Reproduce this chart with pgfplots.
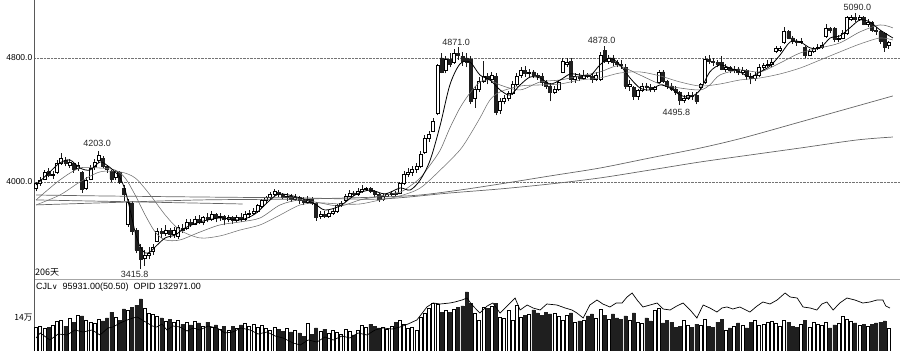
\documentclass[border=0pt]{standalone}
\usepackage{pgfplots}
\pgfplotsset{compat=1.18}
\usepackage{pgfplotstable}
\usepackage{fontspec}
\setmainfont{Liberation Sans}
\newfontfamily\cjk{Noto Sans CJK SC}
\newfontfamily\dejavu{DejaVu Sans}

\pgfplotstableread{
i o h l c v
0 3960 4000 3940 3990 101800
1 3990 4030 3975 4010 106000
2 4020 4080 4010 4060 97600
3 4070 4090 4030 4040 101800
4 4040 4070 4020 4050 110300
5 4060 4140 4050 4120 127300
6 4120 4190 4110 4150 131500
7 4140 4160 4100 4120 106000
8 4110 4150 4090 4130 140000
9 4120 4130 4060 4080 123000
10 4090 4130 4070 4110 152700
11 4060 4070 3930 3950 148500
12 3960 4030 3950 4010 131500
13 4020 4110 4010 4090 123000
14 4100 4150 4080 4130 118800
15 4140 4203 4120 4170 135700
16 4150 4170 4090 4100 127300
17 4100 4110 4060 4080 140000
18 4070 4080 4000 4020 165400
19 4030 4080 4010 4070 144200
20 4060 4070 3990 4000 131500
21 3960 3980 3880 3920 178200
22 3730 3890 3710 3870 174000
23 3860 3880 3660 3680 186600
24 3690 3700 3540 3560 195100
25 3580 3600 3440 3500 220600
26 3510 3560 3460 3530 182400
27 3530 3580 3500 3540 161200
28 3550 3600 3530 3580 157000
29 3620 3700 3610 3680 148500
30 3680 3700 3640 3670 140000
31 3670 3720 3650 3690 127300
32 3690 3700 3640 3660 135700
33 3660 3710 3640 3690 123000
34 3650 3720 3630 3710 131500
35 3700 3730 3670 3690 114500
36 3700 3760 3690 3740 123000
37 3740 3760 3710 3730 110300
38 3730 3780 3720 3760 127300
39 3760 3790 3730 3740 118800
40 3740 3780 3720 3770 106000
41 3770 3800 3740 3760 123000
42 3760 3810 3750 3790 101800
43 3790 3800 3740 3770 110300
44 3770 3800 3750 3780 93300
45 3780 3790 3720 3760 106000
46 3760 3790 3740 3770 89100
47 3770 3780 3730 3750 106000
48 3750 3790 3740 3770 97600
49 3770 3800 3740 3760 110300
50 3760 3810 3750 3790 118800
51 3790 3820 3770 3800 106000
52 3800 3830 3790 3810 114500
53 3810 3860 3800 3850 101800
54 3840 3890 3830 3880 110300
55 3880 3910 3860 3900 97600
56 3900 3935 3890 3920 89100
57 3920 3955 3910 3940 101800
58 3935 3950 3900 3920 93300
59 3920 3930 3890 3900 84800
60 3900 3930 3880 3910 97600
61 3910 3920 3870 3890 80600
62 3890 3920 3880 3900 89100
63 3900 3910 3860 3880 76400
64 3880 3900 3850 3870 63600
65 3870 3910 3860 3890 118800
66 3890 3900 3850 3860 72100
67 3860 3870 3750 3770 97600
68 3780 3810 3760 3790 84800
69 3790 3810 3770 3780 93300
70 3780 3820 3770 3800 76400
71 3800 3830 3790 3810 89100
72 3810 3860 3800 3850 80600
73 3850 3880 3840 3860 72100
74 3880 3920 3870 3910 93300
75 3910 3950 3900 3930 84800
76 3930 3940 3910 3920 67900
77 3920 3960 3910 3940 89100
78 3940 3980 3930 3950 110300
79 3950 3970 3940 3960 101800
80 3960 3970 3930 3940 114500
81 3940 3950 3900 3920 106000
82 3920 3930 3870 3890 97600
83 3890 3920 3880 3910 101800
84 3910 3930 3900 3920 93300
85 3920 3940 3910 3930 106000
86 3930 3940 3910 3920 123000
87 3930 4000 3920 3990 131500
88 3990 4070 3980 4050 114500
89 4050 4090 4030 4060 97600
90 4060 4100 4040 4080 101800
91 4080 4120 4060 4100 89100
92 4100 4200 4090 4180 144200
93 4190 4300 4180 4280 161200
94 4280 4330 4260 4310 182400
95 4330 4410 4320 4390 203600
96 4440 4760 4430 4750 199400
97 4800 4830 4700 4710 165400
98 4720 4810 4700 4790 174000
99 4790 4830 4740 4760 165400
100 4770 4860 4760 4830 178200
101 4830 4871 4790 4820 186600
102 4810 4840 4750 4780 190900
103 4800 4830 4740 4770 250300
104 4790 4810 4500 4520 203600
105 4540 4620 4480 4600 161200
106 4600 4680 4580 4650 131500
107 4650 4780 4640 4680 186600
108 4680 4700 4630 4660 182400
109 4660 4710 4640 4690 190900
110 4680 4700 4430 4450 203600
111 4460 4540 4440 4520 144200
112 4520 4560 4500 4540 140000
113 4540 4590 4520 4570 174000
114 4570 4650 4560 4630 131500
115 4630 4700 4620 4680 195100
116 4690 4740 4670 4720 144200
117 4720 4750 4680 4700 152700
118 4700 4730 4680 4710 157000
119 4710 4720 4670 4690 174000
120 4690 4700 4660 4680 161200
121 4680 4700 4620 4640 152700
122 4640 4660 4600 4620 165400
123 4620 4640 4520 4580 157000
124 4580 4620 4570 4600 161200
125 4600 4660 4590 4640 148500
126 4710 4800 4700 4780 131500
127 4760 4800 4740 4770 152700
128 4780 4800 4640 4660 161200
129 4660 4700 4640 4680 123000
130 4680 4700 4650 4670 127300
131 4670 4720 4660 4690 131500
132 4690 4700 4670 4680 148500
133 4680 4700 4640 4660 157000
134 4660 4710 4650 4690 140000
135 4660 4840 4650 4820 178200
136 4850 4878 4770 4780 152700
137 4780 4820 4760 4800 135700
138 4800 4820 4750 4770 157000
139 4770 4790 4740 4760 140000
140 4760 4790 4730 4750 135700
141 4740 4760 4600 4620 148500
142 4620 4660 4590 4630 131500
143 4610 4620 4530 4550 161200
144 4550 4600 4530 4590 123000
145 4590 4640 4580 4620 118800
146 4620 4640 4590 4610 140000
147 4610 4630 4580 4600 127300
148 4600 4620 4580 4610 174000
149 4640 4720 4630 4710 182400
150 4710 4720 4640 4650 118800
151 4650 4660 4600 4620 131500
152 4620 4640 4590 4600 123000
153 4600 4620 4560 4580 101800
154 4580 4590 4496 4530 106000
155 4530 4560 4510 4540 131500
156 4540 4580 4530 4560 110300
157 4560 4580 4530 4550 101800
158 4560 4580 4500 4520 114500
159 4610 4640 4600 4630 110300
160 4640 4810 4630 4790 135700
161 4790 4820 4760 4780 106000
162 4780 4800 4750 4770 101800
163 4770 4790 4740 4760 123000
164 4770 4810 4720 4730 135700
165 4730 4760 4710 4740 89100
166 4740 4750 4700 4720 97600
167 4720 4750 4700 4730 106000
168 4730 4740 4690 4710 118800
169 4710 4740 4690 4720 110300
170 4720 4730 4660 4680 97600
171 4680 4700 4630 4670 123000
172 4670 4710 4650 4690 131500
173 4690 4760 4680 4740 110300
174 4740 4770 4720 4750 114500
175 4750 4790 4740 4760 123000
176 4760 4800 4740 4770 127300
177 4840 4880 4830 4860 118800
178 4850 4880 4840 4860 106000
179 4900 5000 4890 4970 131500
180 4970 4980 4920 4930 123000
181 4930 4940 4890 4910 106000
182 4910 4920 4880 4900 101800
183 4900 4930 4890 4910 114500
184 4870 4880 4800 4820 131500
185 4820 4860 4810 4840 101800
186 4840 4870 4830 4860 123000
187 4860 4890 4850 4870 114500
188 4870 4900 4860 4880 110300
189 4940 5020 4930 4990 123000
190 4990 5000 4960 4980 97600
191 4990 5000 4900 4920 110300
192 4920 4950 4900 4930 118800
193 4930 4980 4920 4960 148500
194 4960 5070 4950 5060 135700
195 5050 5080 5040 5060 127300
196 5060 5090 5030 5050 118800
197 5050 5080 5040 5060 110300
198 5060 5070 5010 5020 114500
199 5020 5050 5000 5030 106000
200 5030 5040 4970 4980 114500
201 4980 5000 4950 4970 118800
202 4970 4980 4890 4910 123000
203 4960 4970 4840 4870 127300
204 4880 4910 4860 4900 95931
}\candles

\pgfplotsset{
  panel/.style={at={(34pt,72pt)}, anchor=south west, scale only axis,
    width=866pt, height=279pt, xmin=-0.5, xmax=206.7, ymin=3374, ymax=5174},
  vpanel/.style={at={(34pt,0pt)}, anchor=south west, scale only axis,
    width=866pt, height=72pt, xmin=-0.5, xmax=206.7},
}

\begin{document}
\begin{tikzpicture}
\useasboundingbox (0pt,0pt) rectangle (900pt,351pt);

% ---- price frame, grid and wicks
\begin{axis}[panel,
  axis x line*=bottom, axis y line*=left,
  y axis line style={black!65, line width=0.9pt},
  x axis line style={black!35, line width=0.8pt},
  xtick=\empty, ytick={4000,4800}, yticklabels={4000.0,4800.0},
  major tick length=0pt,
  yticklabel style={font=\fontsize{8.5}{10}\selectfont, inner xsep=1.5pt},
  ymajorgrids, grid style={black!55, densely dotted, line width=0.5pt},
]
\addplot[draw=none, mark=none,
  error bars/.cd, y dir=plus, y explicit, error mark=none,
  error bar style={draw=black!90, line width=0.6pt}]
  table[x=i, y=l, y error expr={\thisrow{h}-\thisrow{l}}] {\candles};
\end{axis}

% ---- candle bodies
\begin{axis}[panel, hide axis, ybar stacked, bar width=3pt]
\addplot[draw=none, fill=none] table[x=i, y expr={min(\thisrow{o},\thisrow{c})}] {\candles};
\addplot[draw=black, fill=white, line width=0.6pt] table[x=i, y expr={max(\thisrow{c}-\thisrow{o},0)}] {\candles};
\addplot[draw=black!88, fill=black!88, line width=0.6pt] table[x=i, y expr={max(\thisrow{o}-\thisrow{c},0)}] {\candles};
\end{axis}

% ---- moving averages and labels
\begin{axis}[panel, hide axis, clip=false]
% long averages
\addplot[black!60, line width=0.7pt, smooth] coordinates {
(0,3852)(15.3,3865)(39.2,3884)(63.2,3890)(82.3,3903)(91.9,3916)(101.4,3948)(111,3987)(123,4039)(134.9,4090)(146.9,4155)(158.9,4219)(169.1,4284)(182.8,4387)(194.7,4477)(205,4555)};
\addplot[black!60, line width=0.7pt, smooth] coordinates {
(0,3916)(15.3,3910)(39.2,3903)(63.2,3897)(82.3,3890)(99,3929)(111,3955)(123,3987)(134.9,4026)(146.9,4077)(158.9,4129)(170.8,4174)(182.8,4219)(196.4,4271)(205,4290)};
\addplot[black!60, line width=0.7pt] coordinates {(0,3884)(49.4,3858)};
% MA20
\addplot[black!55, line width=0.55pt, smooth] coordinates {
(0,3852)(5.7,3916)(10.5,4000)(15.3,4065)(20.1,4065)(23.7,4026)(27.3,3916)(30.9,3787)(34.4,3690)(39.2,3639)(44,3652)(48.8,3690)(53.6,3723)(58.4,3787)(63.2,3852)(67.9,3865)(72.7,3858)(77.5,3858)(82.3,3884)(87.1,3910)(91.9,3961)(96.7,4077)(101.4,4206)(103.8,4303)(106.2,4413)(108.6,4529)(111,4581)(115.8,4619)(120.6,4626)(125.4,4632)(130.1,4658)(134.9,4671)(139.7,4703)(144.5,4710)(149.3,4684)(154.1,4645)(158.9,4619)(163.6,4632)(168.4,4658)(173.2,4671)(178,4697)(182.8,4735)(187.6,4787)(192.3,4839)(197.1,4890)(201.9,4929)(205,4916)};
% MA10
\addplot[black!60, line width=0.55pt, smooth] coordinates {
(0,3884)(5.7,4013)(10.5,4090)(15.3,4090)(18.9,4077)(21.3,4026)(23.7,3916)(26.1,3787)(28.5,3677)(30.9,3626)(34.4,3626)(39.2,3677)(44,3723)(48.8,3742)(53.6,3768)(58.4,3852)(63.2,3884)(67.9,3865)(72.7,3845)(77.5,3884)(82.3,3910)(87.1,3935)(89.5,3974)(91.9,4026)(94.3,4110)(96.7,4206)(99,4348)(101.4,4477)(103.8,4574)(106.2,4645)(108.6,4658)(111,4626)(115.8,4594)(120.6,4645)(125.4,4658)(130.1,4684)(134.9,4710)(137.3,4735)(139.7,4748)(144.5,4690)(149.3,4632)(154.1,4606)(158.9,4594)(161.2,4626)(163.6,4690)(168.4,4723)(173.2,4710)(178,4768)(182.8,4832)(187.6,4865)(192.3,4897)(197.1,4968)(201.9,5013)(205,4994)};
% MA5
\addplot[black, line width=0.8pt, smooth] coordinates {
(0,3981)(3.3,4065)(5.7,4123)(8.1,4142)(10.5,4090)(12.9,4077)(15.3,4129)(17.2,4103)(18.9,4065)(20.1,4026)(21.3,3948)(22.5,3819)(23.7,3677)(24.9,3581)(26.1,3542)(27.3,3548)(28.5,3581)(30.9,3639)(33.3,3658)(35.6,3703)(39.2,3742)(44,3768)(48.8,3755)(52.4,3794)(56,3884)(58.4,3923)(63.2,3897)(66.7,3858)(69.1,3819)(72.7,3845)(76.3,3916)(79.9,3948)(83.5,3923)(87.1,3961)(89.5,3948)(91.9,4013)(94.3,4142)(96.7,4368)(99,4626)(101.4,4761)(103.8,4774)(106.2,4690)(108.6,4658)(111,4594)(113.4,4561)(115.8,4626)(118.2,4677)(120.6,4671)(123,4632)(125.4,4658)(127.8,4697)(130.1,4690)(132.5,4684)(134.9,4755)(137.3,4800)(139.7,4755)(142.1,4671)(144.5,4606)(146.9,4594)(149.3,4626)(151.7,4606)(154.1,4561)(156.5,4548)(158.9,4594)(161.2,4710)(163.6,4755)(166,4735)(168.4,4710)(170.8,4677)(173.2,4710)(175.6,4748)(178,4819)(180.4,4903)(182.8,4903)(185.2,4865)(187.6,4865)(190,4929)(192.3,4942)(194.7,4994)(197.1,5045)(199.5,5032)(201.9,4981)(205,4929)};
% extreme labels
\begin{scope}[every node/.style={font=\fontsize{9}{10}\selectfont, text=black!85, inner sep=0pt}]
\node at (axis cs:14.6,4252) {4203.0};
\node at (axis cs:23.6,3405) {3415.8};
\node at (axis cs:100.5,4903) {4871.0};
\node at (axis cs:135.3,4916) {4878.0};
\node at (axis cs:153.2,4452) {4495.8};
\node at (axis cs:196.5,5129) {5090.0};
\end{scope}
\end{axis}

% ---- volume bars
\begin{axis}[vpanel, ymin=0, ymax=305424,
  axis y line*=left, axis x line=none,
  y axis line style={black!65, line width=0.9pt},
  xtick=\empty, ytick={140000}, yticklabels={{\cjk 14万}},
  major tick length=0pt, scaled y ticks=false,
  yticklabel style={font=\fontsize{8.5}{10}\selectfont, inner xsep=1.5pt},
]
\addplot[ybar, bar shift=0pt, bar width=3pt, draw=black, fill=white, line width=0.6pt,
  restrict expr to domain={\thisrow{c}-\thisrow{o}}{0:100000}]
  table[x=i, y=v] {\candles};
\addplot[ybar, bar shift=0pt, bar width=3pt, draw=black!88, fill=black!88, line width=0.6pt,
  restrict expr to domain={\thisrow{o}-\thisrow{c}}{0.5:100000}]
  table[x=i, y=v] {\candles};
\end{axis}

% ---- open interest line
\begin{axis}[vpanel, hide axis, ymin=89971, ymax=161971]
\addplot[black, line width=0.7pt] coordinates {
(0,102971)(1,107971)(3.3,100971)(5.3,106971)(7.4,105971)(9.3,110971)(11.2,108971)(13.4,110971)(15.3,105971)(17.2,112971)(18.4,113971)(20.1,117971)(21.8,120971)(23.2,122971)(24.2,123971)(25.4,120971)(26.6,117971)(27.8,114971)(28.9,113971)(30.1,116971)(31.3,110971)(32.8,114971)(34.4,113971)(36.1,109971)(37.6,112971)(39.2,110971)(41.1,114971)(43.3,112971)(45.2,107971)(47.1,108971)(49,112971)(51.2,110971)(53.1,106971)(55.3,108971)(57.2,104971)(59.1,102971)(61.5,97971)(63.2,95971)(65.1,100971)(67.2,98971)(69.1,103971)(71.1,100971)(73.2,104971)(75.1,102971)(77,107971)(79.2,105971)(81.1,110971)(83,112971)(85.2,111971)(87.1,113971)(89,116971)(91.1,120971)(92.6,128971)(93.5,133971)(95,137971)(96.7,136971)(99,137971)(100.2,138971)(101.9,140971)(103.1,142971)(104.3,135971)(106.2,127971)(107.9,134971)(109.3,137971)(111,127971)(112.7,134971)(114.6,142971)(115.8,130971)(117.5,135971)(118.9,132971)(120.6,130971)(122.2,136971)(124.6,135971)(126.6,132971)(128.2,130971)(129.4,127971)(130.9,122971)(132.5,135971)(134.2,140971)(135.6,136971)(137.3,133971)(138.8,137971)(140.2,137971)(141.4,143971)(142.6,147971)(143.8,140971)(145.2,133971)(146.9,135971)(148.6,137971)(150,131971)(151.7,130971)(153.3,134971)(154.8,137971)(156.5,130971)(158.1,122971)(159.6,135971)(161.2,132971)(162.9,128971)(164.1,132971)(165.3,133971)(166.7,131971)(168.4,133971)(170.8,128971)(172.5,134971)(173.9,138971)(175.6,136971)(177.3,140971)(179.2,147971)(180.4,143971)(182.1,142971)(183.5,133971)(185.2,132971)(186.8,130971)(188,136971)(189.2,138971)(190.7,130971)(192.3,137971)(194,142971)(195.9,140971)(197.8,137971)(199.5,138971)(201.2,140971)(202.6,140971)(203.3,134971)(204.3,132971)};
\end{axis}

% ---- panel texts
\node[anchor=west, inner sep=0pt, font=\fontsize{9}{10}\selectfont] at (36pt,64pt)
  {CJL{\dejavu\fontsize{7.5}{9}\selectfont ∨}\ \ 95931.00(50.50)\ \ OPID 132971.00};
\node[anchor=west, inner sep=0pt, font=\fontsize{9}{10}\selectfont] at (35pt,79pt) {{\cjk 206天}};
\end{tikzpicture}
\end{document}
